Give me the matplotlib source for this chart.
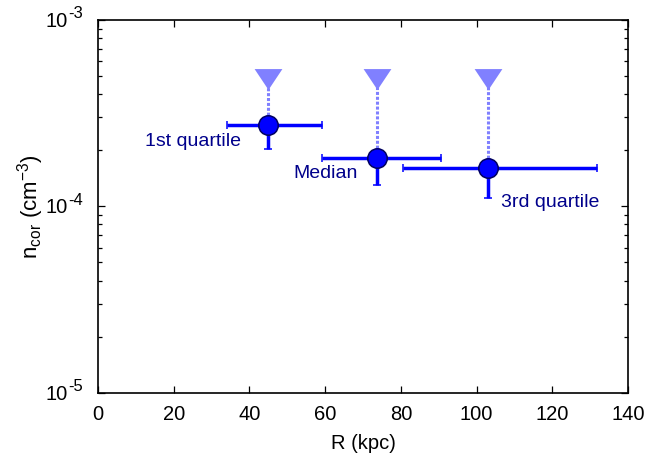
import numpy as np
import matplotlib
matplotlib.use('Agg')
import matplotlib.pyplot as plt
from matplotlib.ticker import LogLocator, NullFormatter

plt.rcParams['font.family'] = ['Liberation Sans', 'DejaVu Sans']
plt.rcParams['mathtext.fontset'] = 'custom'
plt.rcParams['mathtext.rm'] = 'Liberation Sans'
plt.rcParams['mathtext.it'] = 'Liberation Sans:italic'
plt.rcParams['mathtext.default'] = 'regular'

# data
R = [45.0, 73.6, 103.1]
R_lo = [34.0, 59.3, 80.6]
R_hi = [59.3, 90.5, 131.9]
n_cor = [2.73e-4, 1.81e-4, 1.61e-4]
n_lo = [2.02e-4, 1.30e-4, 1.11e-4]
n_lim = [4.8e-4, 4.8e-4, 4.8e-4]   # upper limits (triangles)
names = ['1st quartile', 'Median', '3rd quartile']
# label anchors
lab_x = [37.8, 68.5, 106.4]
lab_y = [2.22e-4, 1.50e-4, 1.05e-4]
lab_ha = ['right', 'right', 'left']
y_decades = [1e-5, 1e-4, 1e-3]
y_exps = ['-5', '-4', '-3']

R = np.array(R); n_cor = np.array(n_cor)
xerr = [R - np.array(R_lo), np.array(R_hi) - R]
yerr = [n_cor - np.array(n_lo), np.zeros(len(R))]

fig = plt.figure(figsize=(6.67, 4.55), dpi=100)
ax = fig.add_axes([98/667, 1 - 392.7/455, 530/667, 372.7/455])

# dotted lines from point to limit
for x, y0, y1 in zip(R, n_cor, n_lim):
    ax.plot([x, x], [y0, y1], color='#8080ff', lw=2.2,
            linestyle=(0, (1.0, 0.6)), dash_capstyle='butt', zorder=1)

tri = [(-1, 0.75), (1, 0.75), (0, -0.75)]
ax.plot(R, n_lim, linestyle='none', marker=tri, ms=20, color='#8080ff',
        mec='none', zorder=3)

ax.errorbar(R, n_cor, xerr=xerr, yerr=yerr, fmt='o', color='#0000ff',
            ms=14, mfc='#0000ff', mec='#000060', mew=1.1, elinewidth=2.5,
            capsize=3, capthick=2.0, zorder=4)

for t, x, y, ha in zip(names, lab_x, lab_y, lab_ha):
    ax.text(x, y, t, color='#00008b', fontsize=14, ha=ha, va='center')

ax.set_yscale('log')
ax.set_xlim(0, 140)
ax.set_ylim(1e-5, 1e-3)
ax.set_xticks(np.arange(0, 141, 20))
ax.set_yticks(y_decades)
ax.yaxis.set_minor_locator(LogLocator(base=10, subs=np.arange(2, 10)))
ax.yaxis.set_minor_formatter(NullFormatter())
ax.set_yticklabels([])

# y tick labels as "10" with a raised exponent
for v, e in zip(y_decades, y_exps):
    ax.annotate('10', xy=(0, v), xycoords=('axes fraction', 'data'),
                xytext=(-21.8, 0.5), textcoords='offset points',
                ha='right', va='center_baseline', fontsize=14.5,
                annotation_clip=False)
    ax.annotate(e, xy=(0, v), xycoords=('axes fraction', 'data'),
                xytext=(-21.3, 5.5), textcoords='offset points',
                ha='left', va='center_baseline', fontsize=12,
                annotation_clip=False)

ax.tick_params(which='both', direction='in', top=True, right=True,
               labelsize=14.5, width=0.9)
ax.tick_params(which='major', length=5)
ax.tick_params(axis='x', which='major', pad=9)
ax.tick_params(which='minor', length=3)
for s in ax.spines.values():
    s.set_linewidth(1.2)

ax.set_xlabel('R (kpc)', fontsize=14.5, labelpad=7)
ax.set_ylabel(r'n$_{cor}$ (cm$^{-3}$)', fontsize=16, labelpad=34)

fig.savefig('out.png', dpi=100)
